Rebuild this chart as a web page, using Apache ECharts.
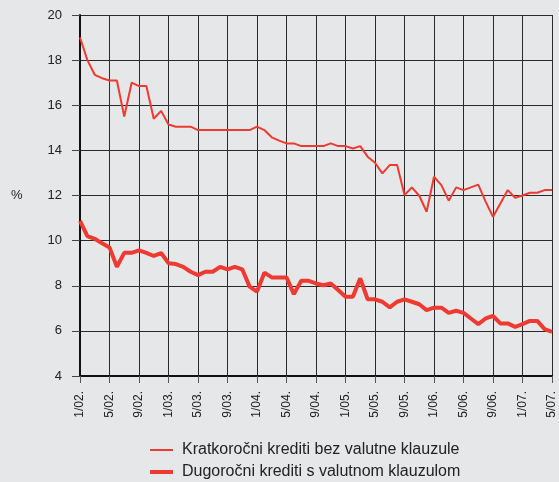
<!DOCTYPE html>
<html>
<head>
<meta charset="utf-8">
<script src="https://cdn.jsdelivr.net/npm/echarts@6/dist/echarts.min.js"></script>
<style>
html,body{margin:0;padding:0;background:#e6e7e9;}
#chart{width:559px;height:482px;}
</style>
</head>
<body>
<div id="chart"></div>
<script>
var categories = [
 "1/02.","2/02.","3/02.","4/02.","5/02.","6/02.","7/02.","8/02.","9/02.","10/02.","11/02.","12/02.",
 "1/03.","2/03.","3/03.","4/03.","5/03.","6/03.","7/03.","8/03.","9/03.","10/03.","11/03.","12/03.",
 "1/04.","2/04.","3/04.","4/04.","5/04.","6/04.","7/04.","8/04.","9/04.","10/04.","11/04.","12/04.",
 "1/05.","2/05.","3/05.","4/05.","5/05.","6/05.","7/05.","8/05.","9/05.","10/05.","11/05.","12/05.",
 "1/06.","2/06.","3/06.","4/06.","5/06.","6/06.","7/06.","8/06.","9/06.","10/06.","11/06.","12/06.",
 "1/07.","2/07.","3/07.","4/07.","5/07."
];
var seriesNames = ["Kratkoročni krediti bez valutne klauzule", "Dugoročni krediti s valutnom klauzulom"];
var kratkorocni = [
 19.0,18.0,17.35,17.2,17.1,17.1,15.5,17.0,16.85,16.85,15.4,15.75,
 15.15,15.05,15.05,15.05,14.9,14.9,14.9,14.9,14.9,14.9,14.9,14.9,
 15.05,14.9,14.58,14.43,14.31,14.31,14.19,14.19,14.19,14.19,14.31,14.19,
 14.19,14.08,14.19,13.72,13.45,12.98,13.35,13.35,12.02,12.36,11.99,11.28,
 12.83,12.46,11.77,12.36,12.24,12.36,12.48,11.73,11.06,11.65,12.24,11.9,
 12.0,12.12,12.12,12.24,12.24
];
var dugorocni = [
 10.88,10.2,10.08,9.88,9.7,8.84,9.46,9.46,9.57,9.46,9.32,9.45,
 9.0,8.96,8.84,8.62,8.47,8.62,8.62,8.84,8.73,8.84,8.73,7.96,
 7.74,8.58,8.37,8.37,8.37,7.63,8.22,8.22,8.1,8.02,8.1,7.81,
 7.51,7.51,8.33,7.4,7.4,7.29,7.04,7.29,7.4,7.29,7.18,6.92,
 7.03,7.03,6.8,6.89,6.8,6.55,6.3,6.55,6.66,6.33,6.33,6.18,
 6.3,6.44,6.44,6.08,5.96
];
var yTicks = { min: 4, max: 20, interval: 2 };
var yName = "%";

var RED = "#ee3a31";
var chart = echarts.init(document.getElementById('chart'), null, {renderer: 'canvas'});
var font = "Liberation Sans, Arial, Helvetica, sans-serif";
chart.setOption({
  backgroundColor: '#e6e7e9',
  animation: false,
  textStyle: { fontFamily: font },
  grid: { left: 80, top: 15, right: 7, bottom: 106 },
  graphic: [{
    type: 'text', left: 11, top: 189,
    style: { text: yName, font: '13px ' + font, fill: '#222' }
  }],
  legend: [{
    data: [{ name: seriesNames[0], icon: 'rect' }],
    orient: 'vertical', left: 150, top: 442, padding: 0,
    itemWidth: 23, itemHeight: 2,
    textStyle: { fontSize: 16, color: '#222', fontFamily: font, padding: [0,0,0,4] }
  }, {
    data: [{ name: seriesNames[1], icon: 'rect' }],
    orient: 'vertical', left: 150, top: 464, padding: 0,
    itemWidth: 23, itemHeight: 4,
    textStyle: { fontSize: 16, color: '#222', fontFamily: font, padding: [0,0,0,4] }
  }],
  xAxis: {
    type: 'category',
    data: categories,
    boundaryGap: false,
    axisLine: { lineStyle: { color: '#111', width: 2 } },
    axisTick: { show: true, interval: 3, length: 7, lineStyle: { color: '#555', width: 1 } },
    axisLabel: { interval: 3, rotate: 90, fontSize: 12, color: '#222', margin: 15, fontFamily: font },
    splitLine: { show: true, interval: 3, lineStyle: { color: '#2a2a2a', width: 1 } }
  },
  yAxis: {
    type: 'value',
    min: yTicks.min, max: yTicks.max, interval: yTicks.interval,
    axisLine: { show: true, lineStyle: { color: '#111', width: 2 } },
    axisTick: { show: true, length: 8, lineStyle: { color: '#444', width: 1 } },
    axisLabel: { fontSize: 13, color: '#222', margin: 18, fontFamily: font },
    splitLine: { show: true, lineStyle: { color: '#2a2a2a', width: 1 } }
  },
  series: [{
    name: seriesNames[0], type: 'line', data: kratkorocni,
    symbol: 'none', color: RED,
    lineStyle: { color: RED, width: 2 }
  }, {
    name: seriesNames[1], type: 'line', data: dugorocni,
    symbol: 'none', color: RED,
    lineStyle: { color: RED, width: 4 }
  }]
});
</script>
</body>
</html>
